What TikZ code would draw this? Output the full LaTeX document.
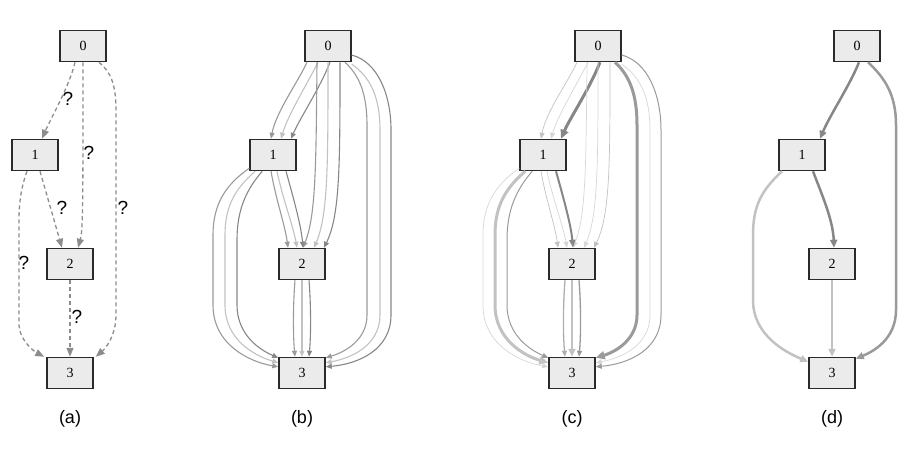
\documentclass[tikz,border=0pt]{standalone}
\usepackage{fontspec}
\newfontfamily\nodefont{Liberation Serif}
\newfontfamily\labfont{Liberation Sans}
\usetikzlibrary{arrows.meta}
\definecolor{boxfill}{HTML}{EBEBEB}
\definecolor{boxline}{HTML}{2A2A2A}
\definecolor{dashgray}{HTML}{8C8C8C}
\definecolor{gmid}{HTML}{9A9A9A}
\definecolor{glight}{HTML}{C2C2C2}
\definecolor{gdark}{HTML}{878787}
\definecolor{gpale}{HTML}{D6D6D6}
\tikzset{
  box/.style={draw=boxline, line width=1.5, fill=boxfill, minimum width=46, minimum height=31,
    inner sep=0, font=\nodefont\fontsize{14}{16}\selectfont},
  subcap/.style={font=\labfont\fontsize{18}{20}\selectfont, inner sep=0},
  qm/.style={font=\labfont\fontsize{19}{21}\selectfont, inner sep=0},
  dedge/.style={draw=dashgray, line width=1.3, dash pattern=on 4pt off 3pt,
    -{Triangle[length=9pt,width=7pt]}},
  thinarr/.style={-{Triangle[length=6pt,width=5pt]}},
  % panel b styles
  bmid/.style={draw=gmid, line width=1.1, thinarr},
  blight/.style={draw=glight, line width=1.1, thinarr},
  bdark/.style={draw=gdark, line width=1.1, thinarr},
  b01a/.style={bmid}, b01b/.style={blight}, b01c/.style={bdark},
  b02a/.style={bmid}, b02b/.style={blight}, b02c/.style={bdark},
  b12a/.style={bmid}, b12b/.style={blight}, b12c/.style={bdark},
  b03a/.style={bmid}, b03b/.style={blight}, b03c/.style={bdark},
  b13a/.style={bmid}, b13b/.style={blight}, b13c/.style={bdark},
  b23a/.style={bmid}, b23b/.style={blight}, b23c/.style={bdark},
  % panel c styles
  cthin/.style={draw=gpale, line width=0.7, thinarr},
  cthingray/.style={draw=gmid, line width=1.0, thinarr},
  cthick/.style={line width=3, -{Triangle[length=9pt,width=8pt]}},
  c01a/.style={cthin, draw=glight}, c01b/.style={cthin}, c01c/.style={cthick, draw=gdark},
  c02a/.style={cthin}, c02b/.style={cthin}, c02c/.style={cthin, draw=glight},
  c12a/.style={cthin, draw=glight}, c12b/.style={cthin}, c12c/.style={draw=gdark, line width=2, -{Triangle[length=8pt,width=6pt]}},
  c03a/.style={cthick, draw=gmid}, c03b/.style={cthin}, c03c/.style={cthingray},
  c13a/.style={cthin}, c13b/.style={cthick, draw=glight}, c13c/.style={cthingray},
  c23a/.style={draw=gmid!80, line width=1.3, thinarr}, c23b/.style={draw=glight, line width=2.5, -{Triangle[length=8pt,width=7pt]}}, c23c/.style={draw=gmid, line width=1.3, thinarr},
  % panel d
  dedgeD/.style={line width=2.5, -{Triangle[length=8pt,width=7pt]}},
}
\newcommand\multipanel[1]{%
  \node[box] (#10) at (328,46) {0};
  \node[box] (#11) at (273,155) {1};
  \node[box] (#12) at (302,264) {2};
  \node[box] (#13) at (302,373) {3};
  % 0 -> 1
  \draw[#101a] ([xshift=-21]#10.south) .. controls (298,82) and (276,112) .. ([xshift=-2]#11.north);
  \draw[#101b] ([xshift=-10]#10.south) .. controls (306,86) and (288,115) .. ([xshift=8]#11.north);
  \draw[#101c] ([xshift=2]#10.south) .. controls (320,88) and (300,118) .. ([xshift=18]#11.north);
  % 0 -> 2
  \draw[#102a] ([xshift=-11]#10.south) .. controls (316,165) and (316,215) .. ([xshift=1]#12.north);
  \draw[#102b] ([xshift=0]#10.south) .. controls (328,165) and (328,215) .. ([xshift=12]#12.north);
  \draw[#102c] ([xshift=12]#10.south) .. controls (340,165) and (340,215) .. ([xshift=22]#12.north);
  % 1 -> 2
  \draw[#112a] ([xshift=-2]#11.south) .. controls (276,200) and (285,225) .. ([xshift=-14]#12.north);
  \draw[#112b] ([xshift=4]#11.south) .. controls (283,200) and (293,225) .. ([xshift=-5]#12.north);
  \draw[#112c] ([xshift=13]#11.south) .. controls (294,200) and (301,225) .. ([xshift=1]#12.north);
  % 0 -> 3
  \draw[#103a] ([xshift=17]#10.south) .. controls (360,76) and (367,95) .. (367,125) -- (367,315)
      .. controls (367,340) and (345,352) .. ([yshift=-1]#13.north east);
  \draw[#103b] ([yshift=-2]#10.south east) .. controls (372,78) and (380,100) .. (380,130) -- (380,315)
      .. controls (380,345) and (352,358) .. ([yshift=-6]#13.north east);
  \draw[#103c] ([yshift=-9]#10.east) .. controls (378,62) and (391,95) .. (391,130) -- (391,315)
      .. controls (391,350) and (358,364) .. ([yshift=-10]#13.north east);
  % 1 -> 3
  \draw[#113a] ([yshift=3]#11.south west) .. controls (225,185) and (213,205) .. (213,235) -- (213,305)
      .. controls (213,345) and (250,362) .. ([yshift=-10]#13.north west);
  \draw[#113b] ([xshift=6]#11.south west) .. controls (236,188) and (225,205) .. (225,235) -- (225,305)
      .. controls (225,340) and (255,356) .. ([yshift=-6]#13.north west);
  \draw[#113c] ([xshift=13]#11.south west) .. controls (246,190) and (237,210) .. (237,240) -- (237,305)
      .. controls (237,335) and (260,350) .. ([yshift=-1]#13.north west);
  % 2 -> 3
  \draw[#123a] ([xshift=-7]#12.south) .. controls (293,305) and (293,335) .. ([xshift=-7]#13.north);
  \draw[#123b] (#12.south) -- (#13.north);
  \draw[#123c] ([xshift=7]#12.south) .. controls (311,305) and (311,335) .. ([xshift=7]#13.north);
}
\begin{document}
\begin{tikzpicture}[x=1pt, y=-1pt]
  \useasboundingbox (0,0) rectangle (921,456);
  % ---------------- panel (a)
  \node[box] (a0) at (83,46) {0};
  \node[box] (a1) at (35,155) {1};
  \node[box] (a2) at (70,264) {2};
  \node[box] (a3) at (70,373) {3};
  \draw[dedge] ([xshift=-8]a0.south) .. controls (70,85) and (50,120) .. ([xshift=7]a1.north);
  \draw[dedge] (a0.south) .. controls (83,200) and (83,230) .. ([xshift=8]a2.north);
  \draw[dedge] ([xshift=16]a0.south) .. controls (111,72) and (116,85) .. (116,110) -- (116,315)
      .. controls (116,335) and (106,348) .. ([xshift=2]a3.north east);
  \draw[dedge] ([xshift=5]a1.south) -- ([xshift=-8]a2.north);
  \draw[dedge] ([xshift=-8]a1.south) .. controls (22,185) and (19,200) .. (19,220) -- (19,325)
      .. controls (19,340) and (35,352) .. ([xshift=-2]a3.north west);
  \draw[dedge] (a2.south) -- (a3.north);
  \node[qm] (q1) at (68,99) {?};
  \node[qm] (q2) at (89,153) {?};
  \node[qm] (q3) at (62,208) {?};
  \node[qm] (q4) at (123,208) {?};
  \node[qm] (q5) at (24,263) {?};
  \node[qm] (q6) at (77,317) {?};
  \node[subcap] (la) at (70,419) {(a)};
  % ---------------- panel (b)
  \multipanel{b}
  \node[subcap] (lb) at (302,419) {(b)};
  % ---------------- panel (c)
  \begin{scope}[xshift=270]
    \multipanel{c}
    \node[subcap] (lc) at (302,419) {(c)};
  \end{scope}
  % ---------------- panel (d)
  \node[box] (d0) at (857,46) {0};
  \node[box] (d1) at (802,155) {1};
  \node[box] (d2) at (832,264) {2};
  \node[box] (d3) at (832,373) {3};
  \draw[dedgeD, draw=gdark] ([xshift=2]d0.south) .. controls (850,85) and (830,115) .. ([xshift=18]d1.north);
  \draw[dedgeD, draw=gmid] ([xshift=11]d0.south) .. controls (885,78) and (896,95) .. (896,125) -- (896,310)
      .. controls (896,340) and (872,352) .. ([yshift=-2]d3.north east);
  \draw[dedgeD, draw=gdark] ([xshift=11]d1.south) .. controls (822,195) and (833,220) .. ([xshift=2]d2.north);
  \draw[dedgeD, draw=glight] ([xshift=-20]d1.south) .. controls (762,190) and (753,205) .. (753,235) -- (753,300)
      .. controls (753,335) and (785,352) .. ([yshift=-5]d3.north west);
  \draw[dedgeD, draw=glight] (d2.south) -- (d3.north);
  \node[subcap] (ld) at (832,419) {(d)};
\end{tikzpicture}
\end{document}
